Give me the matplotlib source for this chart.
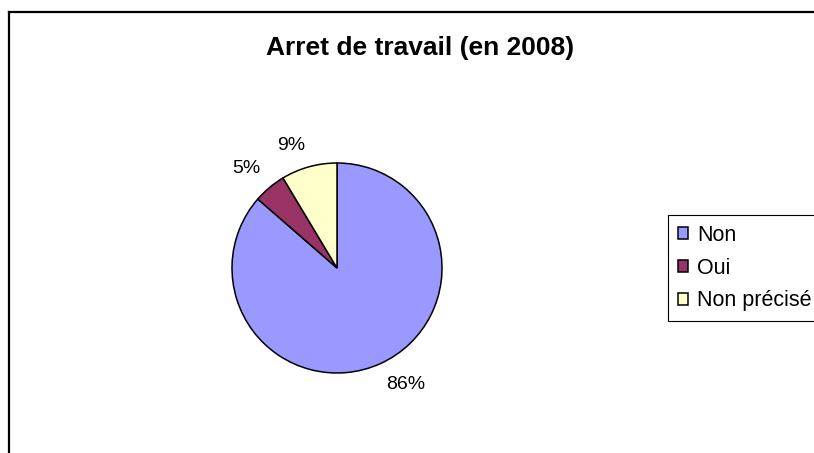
import matplotlib
matplotlib.use("Agg")
import matplotlib.pyplot as plt
import numpy as np
from matplotlib.lines import Line2D

categories = ["Non", "Oui", "Non précisé"]
values = [86.4, 5.0, 8.6]
colors = ["#9999FF", "#993366", "#FFFFCC"]
title = "Arret de travail (en 2008)"

plt.rcParams["font.family"] = ["Liberation Sans", "DejaVu Sans"]

W, H = 814, 453
fig = plt.figure(figsize=(W / 100, H / 100), dpi=100)
fig.patch.set_facecolor("white")

# outer chart frame (cut off on right/bottom)
fig.add_artist(Line2D([9 / W, 9 / W], [0, 1 - 12 / H], transform=fig.transFigure,
                      color="black", lw=1.6, solid_capstyle="projecting"))
fig.add_artist(Line2D([9 / W, 1.0], [1 - 12 / H, 1 - 12 / H], transform=fig.transFigure,
                      color="black", lw=1.6, solid_capstyle="projecting"))

cx, cy, r = 337, 268, 105
ax = fig.add_axes([(cx - r) / W, (H - cy - r) / H, 2 * r / W, 2 * r / H])
labels = [f"{v:.0f}%" for v in values]
wedges, texts = ax.pie(values, colors=colors, startangle=90, counterclock=False,
                       labels=labels, labeldistance=1.15,
                       wedgeprops=dict(edgecolor="black", linewidth=1.1),
                       textprops=dict(fontsize=14, color="black"))
for w, t in zip(wedges, texts):
    ang = np.deg2rad((w.theta1 + w.theta2) / 2)
    c, s = np.cos(ang), np.sin(ang)
    d = 1.13
    t.set_position((d * c, d * s))
    t.set_ha("left" if c > 0 else "right")
    t.set_va("bottom" if s > 0 else "top")
ax.set_xlim(-1, 1)
ax.set_ylim(-1, 1)
ax.set_aspect("equal")
ax.axis("off")

fig.text(420 / W, 1 - 48 / H, title, ha="center", va="center",
         fontsize=19, fontweight="bold")

leg = fig.legend(wedges, categories, loc="upper left",
                 bbox_to_anchor=(668 / W, 1 - 215 / H), bbox_transform=fig.transFigure,
                 frameon=True, fancybox=False, edgecolor="black", framealpha=1,
                 fontsize=15.5, handlelength=0.47, handleheight=0.47,
                 handletextpad=0.42, labelspacing=0.55, borderaxespad=0,
                 borderpad=0.45)
leg.get_frame().set_linewidth(0.8)

fig.savefig("out.png", dpi=100)
